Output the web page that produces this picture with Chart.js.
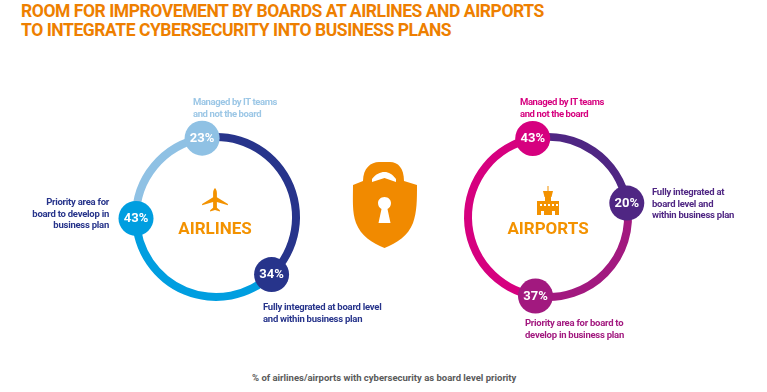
<!DOCTYPE html>
<html>
<head>
<meta charset="utf-8">
<script src="https://cdn.jsdelivr.net/npm/chart.js@4"></script>
<style>
  html, body { margin: 0; padding: 0; background: #fff; }
  #page { position: relative; width: 767px; height: 392px; overflow: hidden; font-family: Roboto, sans-serif; font-weight: 700; }
  #page > div, #page > svg, #page > canvas { position: absolute; }
  .title { left: 21px; top: 2px; font-size: 17.5px; letter-spacing: -0.45px; line-height: 19px; color: #ee7f00; white-space: nowrap; }
  .note { font-size: 9.5px; letter-spacing: -0.25px; line-height: 11.5px; white-space: nowrap; }
  .name { font-size: 17px; line-height: 20px; color: #f39200; text-align: center; width: 120px; }
  .wrap { width: 220px; height: 220px; }
</style>
</head>
<body>
<div id="page">
  <div class="title">ROOM FOR IMPROVEMENT BY BOARDS AT AIRLINES AND AIRPORTS<br>TO INTEGRATE CYBERSECURITY INTO BUSINESS PLANS</div>

  <div class="wrap" style="left:106px;top:107px"><canvas id="airlinesChart" width="220" height="220"></canvas></div>
  <div class="wrap" style="left:438px;top:107px"><canvas id="airportsChart" width="220" height="220"></canvas></div>

  <div class="note" style="left:193px;top:96px;color:#9cc7e6;letter-spacing:-0.4px">Managed by IT teams<br>and not the board</div>
  <div class="note" style="right:658px;top:196px;text-align:right;color:#27348b">Priority area for<br>board to develop in<br>business plan</div>
  <div class="note" style="left:263px;top:301px;color:#27348b">Fully integrated at board level<br>and within business plan</div>

  <div class="note" style="left:520px;top:96px;color:#d6007f;letter-spacing:-0.4px">Managed by IT teams<br>and not the board</div>
  <div class="note" style="left:652px;top:186px;color:#4f2683">Fully integrated at<br>board level and<br>within business plan</div>
  <div class="note" style="left:525px;top:317px;color:#a2197f">Priority area for board to<br>develop in business plan</div>

  <div class="name" style="left:155px;top:218px">AIRLINES</div>
  <div class="name" style="left:488px;top:218px">AIRPORTS</div>

  <div class="note" style="left:252px;top:372px;color:#5a5a5a;letter-spacing:0">% of airlines/airports with cybersecurity as board level priority</div>

  <!-- plane -->
  <svg style="left:200px;top:186px" width="30" height="30" viewBox="0 0 30 30">
    <path fill="#f39200" d="M15 2c1.200 1 1.900 3 1.900 5v4.200l11 6.800v1.200l-11-3.200v5.800l3 2.400v1.200l-4.900-1.300-4.900 1.300v-1.200l3-2.400v-5.800l-11 3.200v-1.200l11-6.800v-4.200c0-2 .7-4 1.900-5z"/>
  </svg>
  <!-- tower -->
  <svg style="left:535px;top:185px" width="26" height="32" viewBox="0 0 26 32">
    <g fill="#f39200">
      <rect x="12.500" y="1" width="1" height="5"/>
      <path d="M8 6h10l-1.500 6h-7z"/>
      <rect x="10" y="12" width="6" height="4"/>
      <path d="M2 16h22v14h-4v-4h-3v4h-8v-4h-3v4h-4z"/>
    </g>
    <g fill="#fff">
      <rect x="5" y="19" width="2" height="2"/><rect x="9" y="19" width="2" height="2"/>
      <rect x="13" y="19" width="2" height="2"/><rect x="17" y="19" width="2" height="2"/>
      <rect x="21" y="19" width="2" height="2"/>
    </g>
  </svg>
  <!-- padlock -->
  <svg style="left:340px;top:150px" width="90" height="110" viewBox="0 0 90 110">
    <path fill="#f18a00" fill-rule="evenodd" d="M23 31C23 18 31 12 39 12H50C58 12 64 18 64 31L77 35C77 50 77 62 73 73C68 86 57 93 44.500 98C32 93 21 86 16 73C12 62 13 50 13 35ZM32 32L44.500 28L56 32V29C52 24 49 22 44.500 22C40 22 36 24 32 29ZM44.500 47C40.500 47 38 50 38 53C38 56 39.500 58 41.500 59L38.500 73H50.500L47.500 59C49.500 58 51 56 51 53C51 50 48.500 47 44.500 47Z"/>
  </svg>
</div>

<script>
// arc spans in degrees as measured on the rings (the rings are not drawn to scale with the % labels)
const airlinesArcs = [81, 146, 133];
const airlinesLabels = ['23%', '34%', '43%'];
const airlinesColors = ['#8fc1e4', '#27348b', '#009ee0'];

const airportsArcs = [160, 91, 109];
const airportsLabels = ['43%', '20%', '37%'];
const airportsColors = ['#d6007f', '#4f2683', '#a2197f'];

// each bubble sits on the end of its arc
const bubbles = {
    id: 'bubbles',
    afterDatasetsDraw(chart) {
        const ctx = chart.ctx;
        const ds = chart.data.datasets[0];
        chart.getDatasetMeta(0).data.forEach((arc, i) => {
            const r = (arc.innerRadius + arc.outerRadius) / 2;
            const x = arc.x + Math.cos(arc.endAngle) * r;
            const y = arc.y + Math.sin(arc.endAngle) * r;
            ctx.save();
            ctx.fillStyle = ds.backgroundColor[i];
            ctx.beginPath();
            ctx.arc(x, y, 17.5, 0, Math.PI * 2);
            ctx.fill();
            ctx.fillStyle = '#fff';
            ctx.font = '700 13px Roboto';
            ctx.textAlign = 'center';
            ctx.textBaseline = 'middle';
            ctx.fillText(chart.data.labels[i], x, y + 0.5);
            ctx.restore();
        });
    }
};

function plotRing(chartId, arcs, labels, colors, rotation) {
    const ctx = document.getElementById(chartId).getContext('2d');
    return new Chart(ctx, {
        type: 'doughnut',
        data: {
            labels: labels,
            datasets: [{
                data: arcs,
                backgroundColor: colors,
                borderWidth: 0
            }]
        },
        options: {
            responsive: false,
            animation: false,
            events: [],
            radius: 84,
            cutout: '90.5%',
            rotation: rotation,
            plugins: {
                legend: { display: false },
                tooltip: { enabled: false }
            }
        },
        plugins: [bubbles]
    });
}

plotRing('airlinesChart', airlinesArcs, airlinesLabels, airlinesColors, -91);
plotRing('airportsChart', airportsArcs, airportsLabels, airportsColors, 189);
</script>
</body>
</html>
